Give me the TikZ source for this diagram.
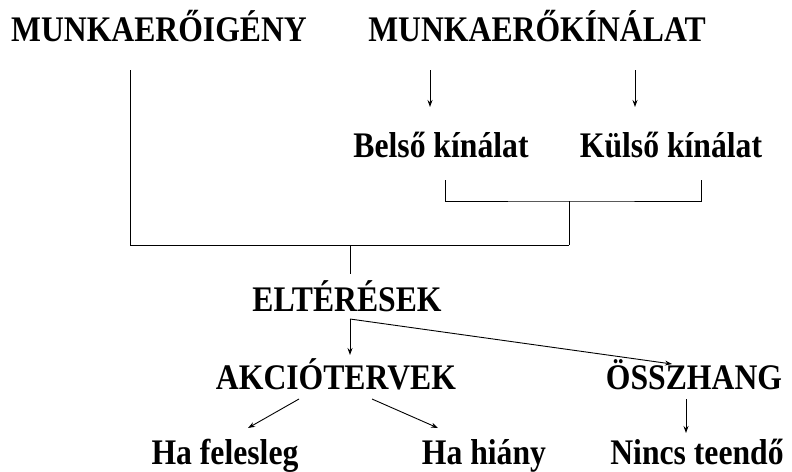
\documentclass[tikz,border=0pt]{standalone}
\usepackage{fontspec}
\setmainfont{Liberation Serif}
\newfontfamily\narrowserif[FakeStretch=0.88]{Liberation Serif}
\usetikzlibrary{arrows.meta}
\begin{document}
\begin{tikzpicture}[x=1pt,y=-1pt,
  lbl/.style={anchor=base,inner sep=0pt,font=\narrowserif\fontsize{36}{42}\selectfont\bfseries},
  link/.style={line width=0.9pt,black},
  arr/.style={link,-{Stealth[length=7pt,width=5pt]}}]
\useasboundingbox (0,0) rectangle (792,471);

% labels
\node[lbl] (igeny)   at (159,41)  {MUNKAERŐIGÉNY};
\node[lbl] (kinalat) at (537,41)  {MUNKAERŐKÍNÁLAT};
\node[lbl] (belso)   at (441,157) {Belső kínálat};
\node[lbl] (kulso)   at (671,157) {Külső kínálat};
\node[lbl] (elter)   at (347,311) {ELTÉRÉSEK};
\node[lbl] (akcio)   at (336,389) {AKCIÓTERVEK};
\node[lbl] (osszh)   at (694,389) {ÖSSZHANG};
\node[lbl] (feles)   at (225,464) {Ha felesleg};
\node[lbl] (hiany)   at (484,464) {Ha hiány};
\node[lbl] (nincs)   at (697,464) {Nincs teendő};

% connector end points
\coordinate (igL)   at (130,70);
\coordinate (kin1a) at (430,70);
\coordinate (kin1b) at (430,107);
\coordinate (kin2a) at (635,70);
\coordinate (kin2b) at (635,107);
\coordinate (brL)   at (445,180);
\coordinate (brR)   at (701,180);
\coordinate (brM)   at (569,201);
\coordinate (joinR) at (569,245);
\coordinate (joinL) at (130,245);
\coordinate (joinM) at (350,245);
\coordinate (eltTop) at (350,274);
\coordinate (eltC)  at (350,319);
\coordinate (akTip) at (350,355);
\coordinate (osTip) at (672,364);
\coordinate (akL1)  at (299,399);
\coordinate (akL2)  at (248,428);
\coordinate (akR1)  at (372,399);
\coordinate (akR2)  at (438,428);
\coordinate (os1)   at (686,399);
\coordinate (os2)   at (686,433);

% supply side
\draw[arr] (kin1a) -- (kin1b);
\draw[arr] (kin2a) -- (kin2b);
\draw[link] (brL) |- (brM) -| (brR);
\draw[link] (brM) -- (joinR);

% demand side joined with supply
\draw[link] (igL) -- (joinL) -- (joinR);
\draw[link] (joinM) -- (eltTop);

% deviations
\draw[arr] (eltC) -- (akTip);
\draw[arr] (eltC) -- (osTip);

% action plans and balance
\draw[arr] (akL1) -- (akL2);
\draw[arr] (akR1) -- (akR2);
\draw[arr] (os1) -- (os2);
\end{tikzpicture}
\end{document}
